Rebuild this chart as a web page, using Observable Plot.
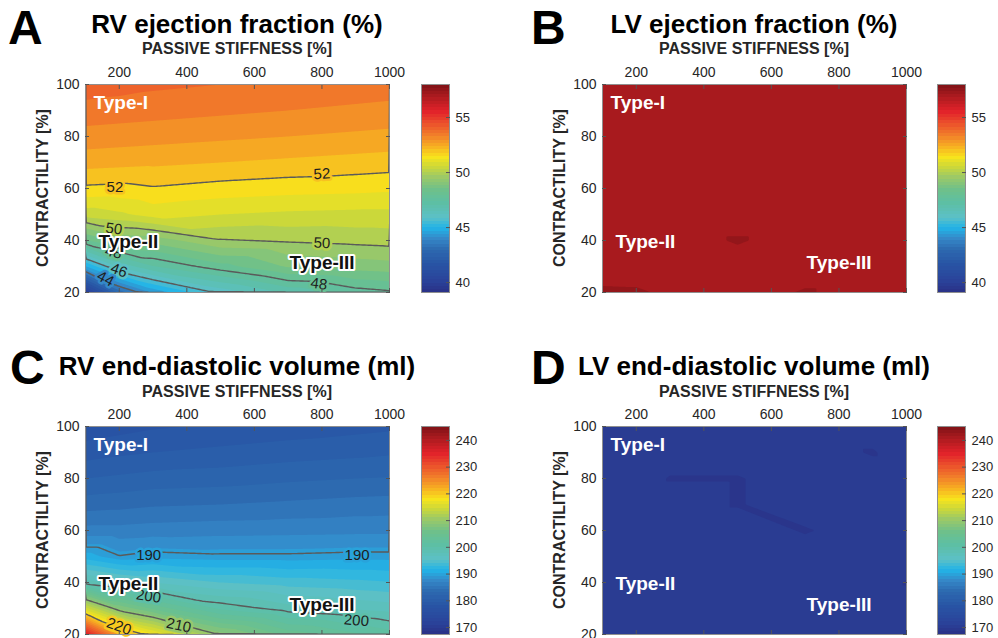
<!DOCTYPE html>
<html>
<head>
<meta charset="utf-8">
<script src="https://cdn.jsdelivr.net/npm/d3@7"></script>
<script src="https://cdn.jsdelivr.net/npm/@observablehq/plot@0.6"></script>
<style>
  html, body { margin: 0; padding: 0; background: #fff; }
  #page { position: relative; width: 998px; height: 638px; overflow: hidden; background: #fff;
          font-family: "Liberation Sans", Arial, Helvetica, sans-serif; }
  .abs { position: absolute; white-space: nowrap; }
  .letter { font-size: 48px; font-weight: bold; line-height: 48px; color: #000; }
  .title { font-size: 26px; font-weight: bold; line-height: 26px; color: #000; width: 500px; text-align: center; }
  .xlab { font-size: 16px; font-weight: bold; line-height: 16px; color: #262626; width: 400px; text-align: center; }
  .ylab { font-size: 16px; font-weight: bold; line-height: 16px; color: #262626; width: 300px; text-align: center; transform: rotate(-90deg); }
</style>
</head>
<body>
<div id="page"></div>
<script>
// ---------------- data ----------------
const stiffness = [100, 200, 300, 500, 700, 900, 1000];          // passive stiffness [%]
const contractility = [20, 30, 40, 50, 60, 70, 80, 90, 100];      // contractility [%]

// rows: contractility 20 -> 100 ; columns: stiffness
const rvEjectionFraction = [
  [40.0, 43.2, 44.6, 46.15, 47.1, 47.75, 47.9],
  [44.96, 46.6, 47.46, 48.3, 49.06, 49.22, 49.3],
  [48.44, 49.1, 49.2, 49.95, 50.06, 50.15, 50.2],
  [50.7, 50.9, 51.2, 51.0, 50.9, 50.85, 50.85],
  [51.9, 51.85, 51.95, 51.8, 51.7, 51.65, 51.6],
  [52.7, 52.65, 52.6, 52.5, 52.4, 52.3, 52.25],
  [53.3, 53.25, 53.2, 53.1, 53.0, 52.9, 52.85],
  [53.8, 53.75, 53.7, 53.6, 53.5, 53.4, 53.35],
  [54.3, 54.2, 54.1, 54.0, 53.9, 53.8, 53.75]
];
const lvEjectionFraction = [
  [57.6, 57.58, 57.4, 57.2, 57.56, 57.2, 57.2],
  [57.2, 57.2, 57.2, 57.2, 57.2, 57.2, 57.2],
  [57.2, 57.2, 57.2, 57.56, 57.2, 57.2, 57.2],
  [57.2, 57.2, 57.2, 57.2, 57.2, 57.2, 57.2],
  [57.2, 57.2, 57.2, 57.2, 57.2, 57.2, 57.2],
  [57.2, 57.2, 57.2, 57.2, 57.2, 57.2, 57.2],
  [57.2, 57.2, 57.2, 57.2, 57.2, 57.2, 57.2],
  [57.2, 57.2, 57.2, 57.2, 57.2, 57.2, 57.2],
  [57.2, 57.2, 57.2, 57.2, 57.2, 57.2, 57.2]
];
const rvEndDiastolicVolume = [
  [237.0, 224, 218.5, 209.7, 205.5, 203.3, 202.3],
  [215.7, 208.8, 205.7, 201.2, 199.2, 198.3, 197.9],
  [199.3, 197.9, 197.0, 195.5, 194.8, 194.4, 194.1],
  [191.7, 190.1, 190.6, 190.3, 190.3, 190.5, 190.5],
  [187.0, 187.0, 187.2, 187.4, 187.5, 187.6, 187.6],
  [184.3, 184.5, 184.8, 185.0, 185.3, 185.6, 185.7],
  [182.0, 182.3, 182.6, 182.8, 183.2, 183.5, 183.6],
  [179.8, 180.2, 180.5, 180.9, 181.3, 181.6, 181.8],
  [178.0, 178.4, 178.8, 179.2, 179.6, 180.0, 180.2]
];
const lvEndDiastolicVolume = [
  [170.3, 170.3, 170.3, 170.3, 170.3, 170.3, 170.3],
  [170.3, 170.3, 170.3, 170.3, 170.3, 170.3, 170.3],
  [170.3, 170.3, 170.3, 170.3, 170.3, 170.3, 169.96],
  [170.3, 170.3, 170.3, 170.3, 170.3, 170.3, 170.3],
  [170.3, 170.3, 170.3, 170.3, 169.95, 170.3, 170.3],
  [170.3, 170.3, 170.3, 169.96, 170.3, 170.3, 170.3],
  [170.3, 170.3, 169.96, 169.96, 170.3, 170.3, 170.3],
  [170.3, 170.3, 170.3, 170.3, 170.3, 169.95, 170.3],
  [170.3, 170.3, 170.3, 170.3, 170.3, 170.3, 170.3]
];

const xTicks = [200, 400, 600, 800, 1000];
const yTicks = [20, 40, 60, 80, 100];
const efTicks = [40, 45, 50, 55];
const edvTicks = [170, 180, 190, 200, 210, 220, 230, 240];
const efRange = [39.1, 58];
const edvRange = [167.4, 245.2];
const efLines = [44, 46, 48, 50, 52];
const edvLines = [190, 200, 210, 220];

// contour labels (data coordinates + rotation in degrees)
const rvEFLabels = [
  {x: 187, y: 60.5, v: 52, r: 0}, {x: 800, y: 65.6, v: 52, r: -3},
  {x: 184, y: 44.5, v: 50, r: 8}, {x: 800, y: 39.0, v: 50, r: 2},
  {x: 183, y: 35.5, v: 48, r: 12}, {x: 791, y: 23.3, v: 48, r: 8},
  {x: 199, y: 28.5, v: 46, r: 20}, {x: 159, y: 25.3, v: 44, r: 28}
];
const rvEDVLabels = [
  {x: 287, y: 50.65, v: 190, r: 0}, {x: 904, y: 50.65, v: 190, r: 0},
  {x: 287, y: 34.7, v: 200, r: 8}, {x: 902, y: 25.4, v: 200, r: 5},
  {x: 376, y: 23.5, v: 210, r: 12}, {x: 199, y: 23.1, v: 220, r: 20}
];
const typeLabels = [
  {x: 124, y: 93.1, text: "Type-I"},
  {x: 138.5, y: 39.6, text: "Type-II"},
  {x: 704, y: 31.5, text: "Type-III"}
];

// colormap (MATLAB-like jet variant)
const cmapPos = [0, 0.06, 0.14, 0.21, 0.26, 0.31, 0.36, 0.43, 0.49, 0.55, 0.60, 0.65, 0.70, 0.76, 0.82, 0.87, 0.93, 1];
const cmapCol = ["#2a3186", "#2a449b", "#2855a5", "#2d6bb1", "#3589c9", "#22b4e7", "#5cc0c6", "#5dbfa4",
                 "#6cc08c", "#98c86a", "#c8d73c", "#f8e41c", "#f7b022", "#f17a2a", "#ea4a2c", "#e2222a", "#b51c21", "#7f1216"];
const cmap = d3.scaleLinear().domain(cmapPos).range(cmapCol).interpolate(d3.interpolateRgb).clamp(true);
const jet = t => cmap(t);

const FONT = '"Liberation Sans", Arial, Helvetica, sans-serif';
const page = document.getElementById("page");
const fmt = d => String(d);

function place(node, left, top) {
  node.style.position = "absolute";
  node.style.left = left + "px";
  node.style.top = top + "px";
  page.appendChild(node);
}
function addText(cls, text, left, top) {
  const d = document.createElement("div");
  d.className = "abs " + cls;
  d.textContent = text;
  d.style.left = left + "px";
  d.style.top = top + "px";
  page.appendChild(d);
}

function panel({values, range, step, lines, labels, halo, left, top}) {
  const pts = contractility.flatMap((c, i) => stiffness.map((s, j) => ({x: s, y: c, v: values[i][j]})));
  const thresholds = d3.range(Math.floor(range[0]), range[1], step);
  const marks = [
    Plot.contour(pts, {x: "x", y: "y", value: "v", fill: "value", stroke: "none", thresholds,
      interpolate: "barycentric", x1: 100, x2: 1000, y1: 20, y2: 100, pixelSize: 1})
  ];
  if (lines) marks.push(
    Plot.contour(pts, {x: "x", y: "y", value: "v", fill: "none", stroke: "#5a5a5a", strokeWidth: 1.4, thresholds: lines,
      interpolate: "barycentric", x1: 40, x2: 1060, y1: 10, y2: 110, clip: true})
  );
  if (labels) marks.push(
    Plot.text(labels, {x: "x", y: "y", text: d => String(d.v), rotate: "r", fill: "#1e1e1e",
      stroke: "v", strokeWidth: 5, strokeLinejoin: "round", paintOrder: "stroke", fontSize: 15})
  );
  marks.push(
    Plot.text(typeLabels.slice(0, 1), {x: "x", y: "y", text: "text", textAnchor: "start", fill: "white",
      fontSize: 19, fontWeight: "bold"}),
    Plot.text(typeLabels.slice(1), halo
      ? {x: "x", y: "y", text: "text", textAnchor: "start", fill: "#111", stroke: "white", strokeWidth: 4,
         strokeLinejoin: "round", paintOrder: "stroke", fontSize: 19, fontWeight: "bold"}
      : {x: "x", y: "y", text: "text", textAnchor: "start", fill: "white", fontSize: 19, fontWeight: "bold"}),
    Plot.frame({stroke: "#8f8f8f"}),
    Plot.axisX({anchor: "top", ticks: xTicks, tickFormat: fmt, tickSize: -4, tickPadding: 12, label: null, stroke: "#555"}),
    Plot.axisX({anchor: "bottom", ticks: xTicks, tickSize: -4, tickFormat: () => "", label: null, stroke: "#555"}),
    Plot.axisY({anchor: "left", ticks: yTicks, tickFormat: fmt, tickSize: -4, tickPadding: 10, label: null, stroke: "#555"}),
    Plot.axisY({anchor: "right", ticks: yTicks, tickSize: -4, tickFormat: () => "", label: null, stroke: "#555"})
  );
  const svg = Plot.plot({
    width: 400, height: 300,
    marginLeft: 85, marginRight: 11, marginTop: 84, marginBottom: 8,
    style: {background: "transparent", fontFamily: FONT, fontSize: "14px", color: "#262626", overflow: "visible"},
    x: {domain: [100, 1000]},
    y: {domain: [20, 100]},
    color: {type: "linear", domain: range, interpolate: jet, clamp: true},
    marks
  });
  place(svg, left, top);
}

function colorbar({range, ticks, left, top}) {
  const svg = Plot.plot({
    width: 70, height: 300,
    marginLeft: 2, marginRight: 40, marginTop: 84, marginBottom: 8,
    style: {background: "transparent", fontFamily: FONT, fontSize: "13px", color: "#262626", overflow: "visible"},
    x: {domain: [0, 1], axis: null},
    y: {domain: range},
    color: {type: "linear", domain: range, interpolate: jet, clamp: true},
    marks: [
      Plot.raster({x1: 0, x2: 1, y1: range[0], y2: range[1], fill: (x, y) => y, width: 1, height: 64, imageRendering: "pixelated"}),
      Plot.frame({stroke: "#8f8f8f"}),
      Plot.axisY({anchor: "right", ticks, tickFormat: fmt, tickSize: -4, tickPadding: 10, label: null, stroke: "#555"})
    ]
  });
  place(svg, left, top);
}

// ---------------- panels ----------------
panel({values: rvEjectionFraction, range: efRange, step: 0.5, lines: efLines, labels: rvEFLabels, halo: true, left: 0, top: 0});
panel({values: lvEjectionFraction, range: efRange, step: 0.5, lines: null, labels: null, halo: false, left: 517, top: 0});
panel({values: rvEndDiastolicVolume, range: edvRange, step: 1.5, lines: edvLines, labels: rvEDVLabels, halo: true, left: 0, top: 342});
panel({values: lvEndDiastolicVolume, range: edvRange, step: 1.5, lines: null, labels: null, halo: false, left: 517, top: 342});

colorbar({range: efRange, ticks: efTicks, left: 419, top: 0});
colorbar({range: efRange, ticks: efTicks, left: 935, top: 0});
colorbar({range: edvRange, ticks: edvTicks, left: 419, top: 342});
colorbar({range: edvRange, ticks: edvTicks, left: 935, top: 342});

// ---------------- text ----------------
addText("letter", "A", 8, 4);
addText("letter", "B", 531, 4);
addText("letter", "C", 10, 344);
addText("letter", "D", 531, 344);

addText("title", "RV ejection fraction (%)", 237 - 250, 10.5);
addText("title", "LV ejection fraction (%)", 754 - 250, 10.5);
addText("title", "RV end-diastolic volume (ml)", 237 - 250, 353);
addText("title", "LV end-diastolic volume (ml)", 754 - 250, 353);

addText("xlab", "PASSIVE STIFFNESS [%]", 237 - 200, 41);
addText("xlab", "PASSIVE STIFFNESS [%]", 754 - 200, 41);
addText("xlab", "PASSIVE STIFFNESS [%]", 237 - 200, 383.5);
addText("xlab", "PASSIVE STIFFNESS [%]", 754 - 200, 383.5);

addText("ylab", "CONTRACTILITY [%]", 43 - 150, 188 - 8);
addText("ylab", "CONTRACTILITY [%]", 560 - 150, 188 - 8);
addText("ylab", "CONTRACTILITY [%]", 43 - 150, 530 - 8);
addText("ylab", "CONTRACTILITY [%]", 560 - 150, 530 - 8);
</script>
</body>
</html>
